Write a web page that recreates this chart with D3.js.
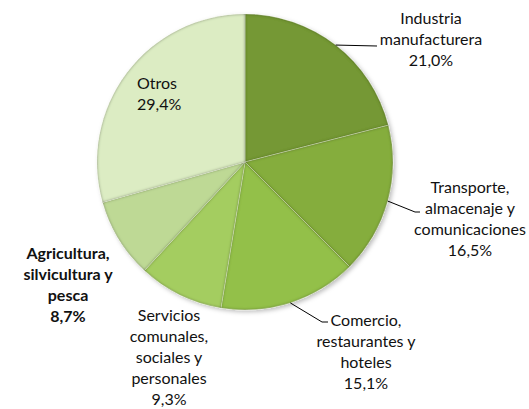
<!DOCTYPE html>
<html>
<head>
<meta charset="utf-8">
<script src="https://cdn.jsdelivr.net/npm/d3@7"></script>
<style>
  body { margin: 0; background: #fff; }
  text { font-family: Lato, "Noto Sans", sans-serif; font-size: 16px; fill: #111; }
</style>
</head>
<body>
<div id="chart"></div>
<script>
// sector shares, clockwise from 12 o'clock
var categories = ["Industria manufacturera", "Transporte, almacenaje y comunicaciones",
  "Comercio, restaurantes y hoteles", "Servicios comunales, sociales y personales",
  "Agricultura, silvicultura y pesca", "Otros"];
var labelLines = [
  ["Industria", "manufacturera"],
  ["Transporte,", "almacenaje y", "comunicaciones"],
  ["Comercio,", "restaurantes y", "hoteles"],
  ["Servicios", "comunales,", "sociales y", "personales"],
  ["Agricultura,", "silvicultura y", "pesca"],
  ["Otros"]
];
var values = [21.0, 16.5, 15.1, 9.3, 8.7, 29.4];
var colors = ["#6f9232", "#7fa63b", "#8db847", "#9dc45d", "#b6d08f", "#d3e2bb"];

var width = 529, height = 409;
var cx = 245, cy = 162, r = 148;
var lineH = 21;

// label placement (layout only)
var labelPos = [
  {x: 431, y: 18, anchor: "middle", leader: [[377, 46]]},
  {x: 470, y: 187, anchor: "middle", leader: [[415, 212], [420, 212]]},
  {x: 366, y: 320, anchor: "middle", leader: [[322, 322], [328, 322]]},
  {x: 169, y: 315, anchor: "middle", leader: null},
  {x: 68, y: 253, anchor: "middle", leader: null, bold: true},
  {x: 137, y: 83, anchor: "start", leader: null}
];

var fmt = function(v) { return d3.format(".1f")(v).replace(".", ",") + "%"; };

var svg = d3.select("#chart").append("svg")
  .attr("width", width).attr("height", height);

var defs = svg.append("defs");

var shadow = defs.append("filter").attr("id", "shadow")
  .attr("x", "-10%").attr("y", "-10%").attr("width", "125%").attr("height", "125%");
shadow.append("feDropShadow").attr("dx", 2).attr("dy", 2).attr("stdDeviation", 2)
  .attr("flood-color", "#000").attr("flood-opacity", 0.25);

var bevel = defs.append("filter").attr("id", "bevel")
  .attr("x", "-5%").attr("y", "-5%").attr("width", "110%").attr("height", "110%");
bevel.append("feGaussianBlur").attr("in", "SourceAlpha").attr("stdDeviation", 1.4).attr("result", "blur");
bevel.append("feComposite").attr("in", "SourceAlpha").attr("in2", "blur")
  .attr("operator", "arithmetic").attr("k2", 1).attr("k3", -1).attr("result", "edge");
bevel.append("feFlood").attr("flood-color", "#253508").attr("flood-opacity", 0.95);
bevel.append("feComposite").attr("in2", "edge").attr("operator", "in").attr("result", "inner");
var merge = bevel.append("feMerge");
merge.append("feMergeNode").attr("in", "SourceGraphic");
merge.append("feMergeNode").attr("in", "inner");

colors.forEach(function(c, i) {
  var g = defs.append("radialGradient").attr("id", "grad" + i)
    .attr("gradientUnits", "userSpaceOnUse")
    .attr("cx", cx).attr("cy", cy).attr("r", r);
  g.append("stop").attr("offset", "0%").attr("stop-color", d3.color(c).darker(0.12));
  g.append("stop").attr("offset", "85%").attr("stop-color", c);
  g.append("stop").attr("offset", "100%").attr("stop-color", d3.color(c).brighter(0.12));
});

var pie = d3.pie().sort(null).value(function(d) { return d; });
var arcs = pie(values);
var arc = d3.arc().innerRadius(0).outerRadius(r);
var edgeArc = d3.arc().innerRadius(r).outerRadius(r);

var pieG = svg.append("g").attr("filter", "url(#shadow)");
var g = pieG.append("g").attr("transform", "translate(" + cx + "," + cy + ")");

g.selectAll("path.slice").data(arcs).enter().append("path")
  .attr("class", "slice")
  .attr("d", arc)
  .attr("fill", function(d, i) { return "url(#grad" + i + ")"; })
  .attr("stroke", "#eef4e2")
  .attr("stroke-opacity", 0.6)
  .attr("stroke-width", 0.7)
  .attr("filter", "url(#bevel)");

// leader lines
var line = d3.line();
svg.selectAll("path.leader").data(arcs.filter(function(d, i) { return labelPos[i].leader; }))
  .enter().append("path")
  .attr("class", "leader")
  .attr("d", function(d) {
    var p = edgeArc.centroid(d);
    var start = [cx + p[0], cy + p[1]];
    return line([start].concat(labelPos[d.index].leader));
  })
  .attr("fill", "none").attr("stroke", "#000").attr("stroke-width", 1);

// labels
arcs.forEach(function(d, i) {
  var pos = labelPos[i];
  var lines = labelLines[i].concat([fmt(values[i])]);
  var t = svg.append("text")
    .attr("text-anchor", pos.anchor)
    .style("font-weight", pos.bold ? "bold" : "normal");
  lines.forEach(function(s, k) {
    t.append("tspan").attr("x", pos.x).attr("y", pos.y + k * lineH).attr("dy", "0.35em").text(s);
  });
});
</script>
</body>
</html>
